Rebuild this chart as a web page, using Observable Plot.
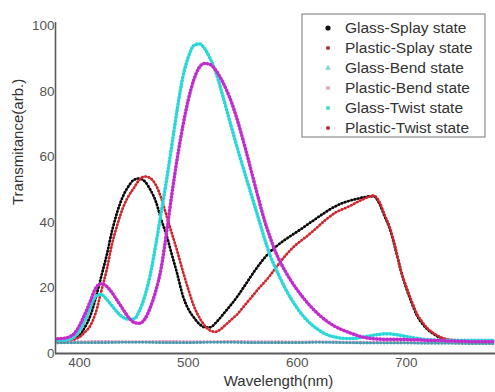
<!DOCTYPE html>
<html>
<head>
<meta charset="utf-8">
<script src="https://cdn.jsdelivr.net/npm/d3@7"></script>
<script src="https://cdn.jsdelivr.net/npm/@observablehq/plot@0.6"></script>
<style>
  body { margin: 0; background: #fff; }
  #chart { width: 495px; height: 392px; }
</style>
</head>
<body>
<div id="chart"></div>
<script>
// Wavelength grid (nm) for the splay and twist spectra
const wavelength = [380, 385, 390, 395, 400, 405, 410, 415, 420, 425, 430, 435, 440, 445, 450, 455, 460, 465, 470, 475,
  480, 485, 490, 495, 500, 505, 510, 515, 520, 525, 530, 535, 540, 545, 550, 555, 560, 565, 570, 575,
  580, 585, 590, 595, 600, 605, 610, 615, 620, 625, 630, 635, 640, 645, 650, 655, 660, 665, 670, 675,
  680, 685, 690, 695, 700, 705, 710, 715, 720, 725, 730, 735, 740, 745, 750, 755, 760, 765, 770, 775, 780];

const glassSplay = [4.0, 4.0, 4.2, 4.6, 5.5, 8.0, 11.5, 17.0, 23.5, 30.0, 37.5, 43.5, 48.0, 51.0, 53.0, 53.4, 52.5, 50.0, 46.5, 41.0,
  36.0, 30.0, 24.0, 17.5, 13.5, 11.0, 9.0, 8.0, 8.0, 9.3, 11.2, 13.2, 15.2, 17.4, 19.8, 22.3, 24.8, 27.1, 29.2, 31.0,
  32.5, 33.8, 35.0, 36.1, 37.2, 38.3, 39.5, 40.6, 41.8, 42.9, 44.0, 44.9, 45.7, 46.3, 46.8, 47.2, 47.6, 47.9, 48.0, 46.0,
  42.0, 38.0, 32.0, 25.5, 20.0, 15.5, 11.5, 9.0, 7.2, 6.0, 5.0, 4.4, 4.0, 3.9, 3.8, 3.8, 3.8, 3.8, 3.8, 3.8, 3.8];

const plasticSplay = [3.8, 3.8, 4.0, 4.3, 5.0, 6.5, 8.5, 12.5, 19.0, 25.5, 33.5, 39.5, 44.5, 48.0, 50.5, 53.0, 54.0, 53.5, 51.5, 47.5,
  42.0, 36.5, 31.0, 25.0, 19.5, 14.5, 11.0, 8.5, 7.0, 6.6, 7.5, 9.0, 10.5, 12.0, 14.0, 16.0, 18.0, 20.0, 21.8, 23.8,
  26.0, 28.2, 30.2, 32.0, 33.5, 34.8, 36.1, 37.5, 39.0, 40.5, 41.8, 43.0, 43.8, 44.5, 45.3, 46.2, 47.0, 47.7, 48.2, 46.5,
  42.5, 38.4, 32.5, 25.3, 20.5, 16.0, 12.0, 9.5, 7.5, 6.2, 5.2, 4.5, 4.2, 4.1, 4.0, 4.0, 4.0, 4.0, 4.0, 4.0, 4.0];

const glassTwist = [4.0, 4.0, 4.2, 5.0, 7.0, 10.0, 14.0, 17.5, 18.0, 16.5, 14.5, 12.5, 11.0, 10.5, 10.5, 13.0, 17.5, 24.0, 33.0, 43.0,
  53.0, 64.0, 75.0, 84.5, 90.5, 94.0, 94.5, 93.0, 90.0, 86.0, 80.5, 74.5, 68.5, 62.6, 57.0, 51.5, 46.0, 40.5, 35.0, 30.0,
  26.0, 22.5, 19.2, 16.3, 13.8, 11.6, 9.8, 8.3, 7.1, 6.1, 5.4, 5.0, 4.7, 4.6, 4.6, 4.7, 5.0, 5.3, 5.6, 5.8,
  6.0, 6.0, 5.8, 5.5, 5.2, 4.9, 4.6, 4.4, 4.2, 4.1, 4.0, 4.0, 4.0, 4.0, 4.0, 4.0, 4.0, 4.0, 4.0, 4.0, 4.0];

const plasticTwist = [4.5, 4.6, 5.0, 6.0, 8.5, 12.0, 16.0, 20.0, 21.3, 20.5, 18.5, 16.0, 13.5, 11.0, 9.5, 9.2, 10.5, 14.0, 19.0, 26.0,
  37.0, 49.0, 60.0, 69.5, 77.5, 83.5, 87.3, 88.5, 88.2, 86.5, 83.8, 80.4, 76.3, 71.2, 65.4, 59.2, 52.8, 46.5, 40.5, 35.5,
  31.0, 27.5, 24.5, 21.8, 19.4, 17.2, 15.2, 13.4, 11.8, 10.4, 9.2, 8.2, 7.4, 6.7, 6.1, 5.5, 5.0, 4.7, 4.5, 4.4,
  4.3, 4.3, 4.3, 4.3, 4.3, 4.2, 4.2, 4.1, 4.0, 4.0, 4.0, 3.9, 3.8, 3.8, 3.7, 3.7, 3.6, 3.6, 3.6, 3.6, 3.6];

// Bend states are nearly dark across the band, sampled more coarsely
const bendWavelength = [380, 400, 420, 440, 460, 480, 500, 520, 540, 560, 580, 600, 620, 640, 660, 680, 700, 720, 740, 760, 780];
const glassBend = [3.2, 3.3, 3.3, 3.4, 3.4, 3.3, 3.3, 3.4, 3.4, 3.3, 3.3, 3.3, 3.4, 3.3, 3.2, 3.2, 3.2, 3.1, 3.1, 3.0, 3.0];
const plasticBend = [3.6, 3.6, 3.7, 3.6, 3.6, 3.7, 3.6, 3.6, 3.7, 3.6, 3.6, 3.5, 3.6, 3.5, 3.5, 3.4, 3.4, 3.3, 3.3, 3.3, 3.3];

const seriesNames = ["Glass-Splay state", "Plastic-Splay state", "Glass-Bend state", "Plastic-Bend state", "Glass-Twist state", "Plastic-Twist state"];
const xTicks = [400, 500, 600, 700];
const yTicks = [0, 20, 40, 60, 80, 100];

const styles = {
  "Glass-Splay state":   { line: "#2a2a2a", dot: "#000000", width: 2.0, mark: "#111", marker: "circle" },
  "Plastic-Splay state": { line: "#f23c3c", dot: "#c8242e", width: 2.0, mark: "#a83848", marker: "circle" },
  "Glass-Bend state":    { line: "#5aaabb", dot: "#4a98ac", width: 2.0, mark: "#7fd6cf", marker: "triangle" },
  "Plastic-Bend state":  { line: "#eab4cf", dot: "#dc92ba", width: 2.0, mark: "#e9a6c4", marker: "circle" },
  "Glass-Twist state":   { line: "#44e6e6", dot: "#2ad6d6", width: 2.8, mark: "#3fd9d0", marker: "circle" },
  "Plastic-Twist state": { line: "#e046e8", dot: "#c02ccc", width: 2.8, mark: "#c0304a", marker: "circle" }
};

const valuesByName = {
  "Glass-Splay state": [wavelength, glassSplay],
  "Plastic-Splay state": [wavelength, plasticSplay],
  "Glass-Bend state": [bendWavelength, glassBend],
  "Plastic-Bend state": [bendWavelength, plasticBend],
  "Glass-Twist state": [wavelength, glassTwist],
  "Plastic-Twist state": [wavelength, plasticTwist]
};
const drawOrder = ["Plastic-Bend state", "Glass-Bend state", "Glass-Splay state", "Plastic-Splay state", "Glass-Twist state", "Plastic-Twist state"];

// Each spectrum: a soft continuous trace with a dotted overlay
const seriesMarks = drawOrder.flatMap(name => {
  const [xs, ys] = valuesByName[name];
  const rows = xs.map((w, i) => ({ wavelength: w, value: ys[i] }));
  const s = styles[name];
  return [
    Plot.line(rows, { x: "wavelength", y: "value", stroke: s.line, strokeWidth: s.width, curve: "monotone-x", strokeOpacity: 0.85 }),
    Plot.line(rows, { x: "wavelength", y: "value", stroke: s.dot, strokeWidth: s.width + 0.8, curve: "monotone-x",
      strokeDasharray: "0 3.4", strokeLinecap: "round" })
  ];
});

const chart = Plot.plot({
  width: 495,
  height: 392,
  marginLeft: 55,
  marginRight: 0,
  marginTop: 22,
  marginBottom: 39,
  style: { fontFamily: "'Liberation Sans', Arial, sans-serif", fontSize: "13.5px", color: "#444", background: "#fff" },
  x: { domain: [378, 782] },
  y: { domain: [0, 101] },
  marks: [
    Plot.axisX({ ticks: xTicks, tickSize: 0, tickPadding: 4, label: null, fill: "#555" }),
    Plot.axisY({ ticks: yTicks, tickSize: 0, tickPadding: 1, label: null, fill: "#555" }),
    ...seriesMarks,
    Plot.ruleX([378], { stroke: "#5a5a5a", strokeWidth: 1.6 }),
    Plot.ruleY([0], { stroke: "#5a5a5a", strokeWidth: 2 }),
    Plot.text(["Wavelength(nm)"], { frameAnchor: "bottom", dx: 3, dy: 32, fontSize: 15, fill: "#333" }),
    Plot.text(["Transmitance(arb.)"], { frameAnchor: "left", dx: -37, dy: 17, rotate: -90, fontSize: 15, fill: "#333" })
  ]
});

// Legend box in the upper-right corner
const svg = d3.select(chart);
const legend = svg.append("g")
  .attr("font-family", "'Liberation Sans', Arial, sans-serif")
  .attr("text-anchor", "start");
legend.append("rect")
  .attr("x", 302).attr("y", 14).attr("width", 183).attr("height", 123)
  .attr("fill", "#fff").attr("stroke", "#8c8c8c").attr("stroke-width", 1.2);
seriesNames.forEach((name, i) => {
  const y = 28 + i * 20;
  const s = styles[name];
  if (s.marker === "triangle") {
    legend.append("path").attr("d", d3.symbol(d3.symbolTriangle, 14)()).attr("transform", `translate(328,${y})`).attr("fill", s.mark);
  } else {
    legend.append("circle").attr("cx", 328).attr("cy", y).attr("r", i === 0 ? 2.6 : 2.1).attr("fill", s.mark);
  }
  legend.append("text").attr("x", 345).attr("y", y).attr("dy", "0.35em")
    .attr("font-size", 15.5).attr("fill", "#333").text(name);
});

document.getElementById("chart").append(chart);
</script>
</body>
</html>
